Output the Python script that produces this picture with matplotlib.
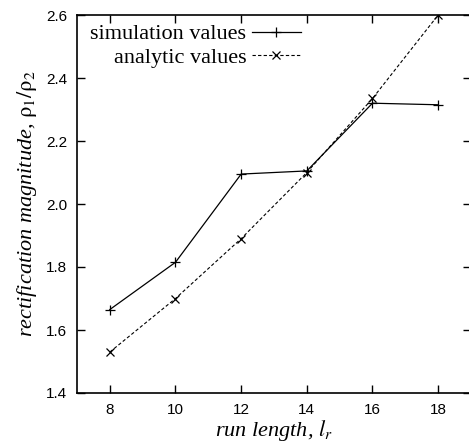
import numpy as np
import matplotlib as mpl
mpl.use('Agg')
import matplotlib.pyplot as plt

run_length = [8, 10, 12, 14, 16, 18]
simulation = [1.665, 1.815, 2.095, 2.105, 2.32, 2.315]
analytic = [1.53, 1.70, 1.89, 2.10, 2.335, 2.60]

mpl.rcParams['mathtext.fontset'] = 'stix'

fig = plt.figure(figsize=(4.69, 4.45), dpi=100)
ax = fig.add_axes([77 / 469, 52 / 445, 394 / 469, 378 / 445])

ax.plot(run_length, simulation, '-', color='black', lw=0.9, marker='+', ms=7, mew=0.9,
        label='simulation values')
ax.plot(run_length, analytic, '--', color='black', lw=0.8, dashes=(3, 2), marker='x', ms=6,
        mew=0.9, label='analytic values')

ax.set_xlim(7, 19)
ax.set_ylim(1.4, 2.6)
ax.set_xticks(run_length)
ax.set_yticks(np.arange(1.4, 2.61, 0.2))
ax.yaxis.set_major_formatter(mpl.ticker.FormatStrFormatter('%.1f'))
ax.tick_params(direction='in', top=True, right=True, length=6, width=1, labelsize=11, pad=7)
for lab in ax.get_xticklabels() + ax.get_yticklabels():
    lab.set_family('Liberation Sans')
for sp in ax.spines.values():
    sp.set_linewidth(1.2)

ax.set_xlabel(r'run length, $l_r$', family='Liberation Serif', style='italic', fontsize=16,
              labelpad=1)
ax.set_ylabel(r'rectification magnitude, $\mathrm{\rho}_{\mathit{1}}/\mathrm{\rho}_{\mathit{2}}$',
              family='Liberation Serif', style='italic', fontsize=16, labelpad=5)

leg = ax.legend(loc='upper left', bbox_to_anchor=(0.0, 1.012), frameon=False, markerfirst=False,
                prop={'family': 'Liberation Serif', 'size': 16}, handlelength=2.2,
                handletextpad=0.25, labelspacing=0.15, borderaxespad=0.2)
for t in leg.get_texts():
    t.set_ha('right')
leg._legend_box.align = 'right'

fig.savefig('out.png', dpi=100)
